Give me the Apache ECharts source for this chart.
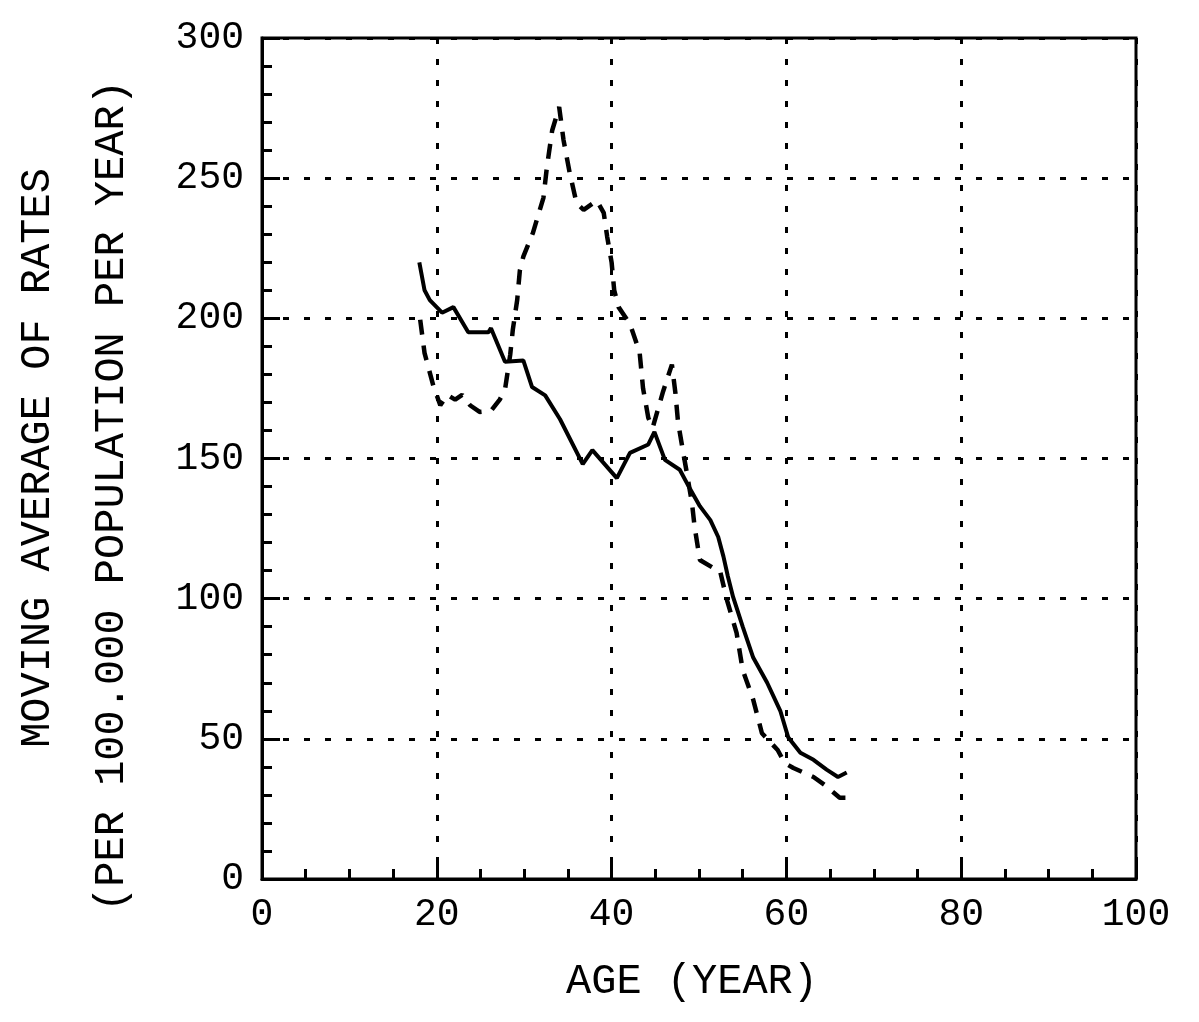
<!DOCTYPE html>
<html>
<head>
<meta charset="utf-8">
<script src="https://cdn.jsdelivr.net/npm/echarts@6/dist/echarts.min.js"></script>
<style>
html,body{margin:0;padding:0;background:#fff;}
#chart{width:1199px;height:1022px;}
</style>
</head>
<body>
<div id="chart"></div>
<script>
// ---- data ----
var solidAges = [18, 18.6, 19.2, 20.6, 21.9, 23.6, 25.9, 26.2, 27.8, 29.9, 30.9, 32.4, 34.1, 36.7, 37.8, 40.6, 42.1, 44.2, 44.9, 46.1, 47.8, 49, 50.1, 51.3, 52.2, 52.8, 53.3, 53.9, 55, 56.2, 57.8, 59.3, 60.2, 61.6, 63.1, 64.6, 65.9, 66.9];
var solidRates = [220, 210, 206.5, 202, 204, 195, 195, 196.5, 184.5, 185, 175.5, 172.5, 164, 148, 153, 143, 152, 155, 159.5, 149.5, 146, 139, 133, 128, 122, 115, 108, 100.6, 90, 79, 70, 60, 50.6, 45, 42.5, 39, 36.4, 38];

var dashedAges = [18.1, 18.6, 19.6, 20.4, 21.2, 22.1, 22.9, 23.8, 24.9, 26.2, 27.2, 27.8, 28.4, 28.7, 29.2, 29.5, 29.9, 31, 32.2, 32.6, 33.2, 34, 34.5, 35.2, 36, 36.8, 38.3, 39.1, 39.5, 40.0, 40.3, 40.8, 42.1, 43.2, 43.6, 44.2, 44.7, 45.9, 46.9, 47.3, 47.6, 48.2, 48.6, 49.2, 49.5, 50.1, 51.6, 52.4, 53.2, 54.3, 55, 56.2, 57.2, 59, 59.8, 60.8, 63.1, 64.4, 66.1, 67];
var dashedRates = [199.5, 187.6, 176, 169, 172.7, 171, 172.7, 169, 166.6, 167, 171, 174.5, 187, 196, 206.6, 217, 222, 230.5, 243, 254, 267, 275.4, 263.6, 252, 241, 238.7, 242, 237.6, 229, 220, 210, 204, 198, 188, 175, 164.5, 161, 174, 183.5, 173.4, 163, 152, 145, 134, 125.6, 113.8, 111, 110, 99.5, 87.8, 74.6, 64, 52, 46, 41.4, 39.6, 36.4, 33.5, 29, 29];

var xTicks = [0, 20, 40, 60, 80, 100];
var yTicks = [0, 50, 100, 150, 200, 250, 300];
var xTitle = 'AGE (YEAR)';
var yTitle1 = 'MOVING AVERAGE OF RATES';
var yTitle2 = '(PER 100.000 POPULATION PER YEAR)';

function pairs(xs, ys) {
  var out = [];
  for (var i = 0; i < xs.length; i++) out.push([xs[i], ys[i]]);
  return out;
}

var FONT = '"Liberation Mono", "DejaVu Sans Mono", monospace';
var chart = echarts.init(document.getElementById('chart'), null, {renderer: 'canvas'});

var gridLine = {show: true, lineStyle: {color: '#000', width: 3, type: [6, 15]}};

chart.setOption({
  animation: false,
  backgroundColor: '#fff',
  grid: {left: 262, right: 63, top: 38, bottom: 143, show: true, borderColor: '#000', borderWidth: 3, containLabel: false},
  xAxis: {
    type: 'value', min: xTicks[0], max: xTicks[xTicks.length - 1], interval: 20,
    axisLine: {show: true, lineStyle: {color: '#000', width: 3}},
    axisTick: {show: true, inside: true, length: 18, lineStyle: {color: '#000', width: 3}},
    minorTick: {show: true, splitNumber: 4, length: 10, lineStyle: {color: '#000', width: 3}},
    axisLabel: {color: '#000', fontFamily: FONT, fontSize: 38, margin: 17},
    splitLine: gridLine
  },
  yAxis: {
    type: 'value', min: yTicks[0], max: yTicks[yTicks.length - 1], interval: 50,
    axisLine: {show: true, lineStyle: {color: '#000', width: 3}},
    axisTick: {show: true, inside: true, length: 18, lineStyle: {color: '#000', width: 3}},
    minorTick: {show: true, splitNumber: 5, length: 10, lineStyle: {color: '#000', width: 3}},
    axisLabel: {color: '#000', fontFamily: FONT, fontSize: 38, margin: 18},
    splitLine: gridLine
  },
  graphic: [
    {type: 'text', x: 692, y: 982, style: {text: xTitle, font: '42px ' + FONT, fill: '#000', align: 'center', verticalAlign: 'middle'}},
    {type: 'text', x: 38, y: 458, rotation: Math.PI / 2, style: {text: yTitle1, font: '42px ' + FONT, fill: '#000', align: 'center', verticalAlign: 'middle'}},
    {type: 'text', x: 112, y: 496, rotation: Math.PI / 2, style: {text: yTitle2, font: '42px ' + FONT, fill: '#000', align: 'center', verticalAlign: 'middle'}}
  ],
  series: [
    {type: 'line', data: pairs(solidAges, solidRates), showSymbol: false, smooth: false,
     lineStyle: {color: '#000', width: 4, type: 'solid'}, z: 3},
    {type: 'line', data: pairs(dashedAges, dashedRates), showSymbol: false, smooth: false,
     lineStyle: {color: '#000', width: 4.5, type: [15, 11]}, z: 3}
  ]
});
</script>
</body>
</html>
